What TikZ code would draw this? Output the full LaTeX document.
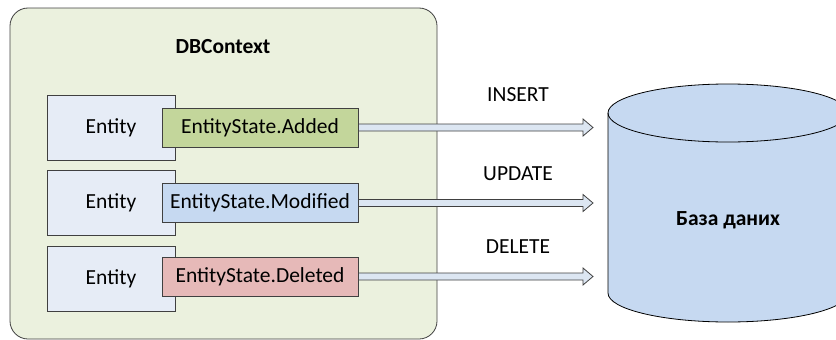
\documentclass[tikz,border=0pt]{standalone}
\usepackage{fontspec}
\setmainfont{Carlito}
\usetikzlibrary{calc}

\definecolor{ctxfill}{HTML}{EBF1DE}
\definecolor{edgegray}{HTML}{404040}
\definecolor{entfill}{HTML}{E6ECF6}
\definecolor{addfill}{HTML}{C3D69B}
\definecolor{modfill}{HTML}{C6D9F1}
\definecolor{delfill}{HTML}{E6B9B8}
\definecolor{arrfill}{HTML}{DCE6F2}
\definecolor{dbfill}{HTML}{C6D9F1}

\tikzset{
  every node/.style={font=\fontsize{21.5}{25}\selectfont},
  entbox/.style={draw=edgegray, fill=entfill, line width=1pt,
    minimum width=128pt, minimum height=65pt, inner sep=0pt},
  statebox/.style={draw=edgegray, line width=1pt,
    minimum width=196pt, minimum height=39pt, inner sep=0pt},
  fatarrow/.style={draw=edgegray, fill=arrfill, line width=0.8pt,
    to path={let \p1=(\tikztostart), \p2=(\tikztotarget) in
      (\x1,\y1+3.5pt) -- (\x2-10pt,\y1+3.5pt) -- (\x2-10pt,\y1+8.5pt)
      -- (\x2,\y1) -- (\x2-10pt,\y1-8.5pt) -- (\x2-10pt,\y1-3.5pt)
      -- (\x1,\y1-3.5pt) -- cycle}}
}

\begin{document}
\begin{tikzpicture}[x=1pt,y=-1pt]
\useasboundingbox (0,0) rectangle (836,340);

% context
\draw[draw=edgegray, fill=ctxfill, line width=0.8pt, rounded corners=18pt]
  (10,8) rectangle (437,339);
\node[font=\fontsize{21.5}{25}\selectfont\bfseries] (ctx) at (223,47) {DBContext};

\node[entbox] (ent1) at (111,127.5) {Entity};
\node[entbox] (ent2) at (111,203) {Entity};
\node[entbox] (ent3) at (111,279) {Entity};

\node[statebox, fill=addfill] (added) at (260,127.5) {EntityState.Added};
\node[statebox, fill=modfill] (modified) at (260,203) {EntityState.Modified};
\node[statebox, fill=delfill] (deleted) at (260,276.5) {EntityState.Deleted};

% database
\draw[draw=black, fill=dbfill, line width=0.8pt]
  (608,113) -- (608,293) arc[start angle=180, end angle=360, x radius=120pt, y radius=29pt]
  -- (848,113) arc[start angle=0, end angle=180, x radius=120pt, y radius=29pt] -- cycle;
\draw[draw=black, line width=0.8pt]
  (608,113) arc[start angle=180, end angle=360, x radius=120pt, y radius=29pt];
\node[font=\fontsize{21.5}{25}\selectfont\bfseries] (db) at (728,220) {База даних};

\coordinate (in1) at (593,128);
\coordinate (in2) at (593,203);
\coordinate (in3) at (593,277);

\draw[fatarrow] (added.east) to (in1);
\draw[fatarrow] (modified.east) to (in2);
\draw[fatarrow] (deleted.east) to (in3);

\node (insert) at (518,95) {INSERT};
\node (update) at (518,174) {UPDATE};
\node (delete) at (518,247) {DELETE};
\end{tikzpicture}
\end{document}
